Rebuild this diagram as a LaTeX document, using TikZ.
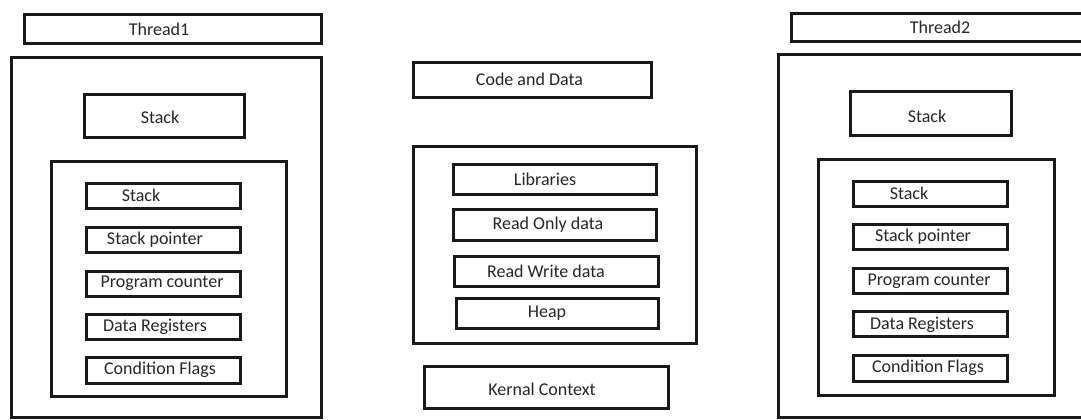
\documentclass[tikz,border=0pt]{standalone}
\usepackage{fontspec}
\setmainfont{Carlito}
\begin{document}
\begin{tikzpicture}[x=1pt,y=-1pt,
  bx/.style={draw=black!90,line width=3pt,rectangle,inner sep=0pt,fill=none},
  txt/.style={inner sep=0pt,text=black!85,font=\fontsize{18}{21}\selectfont}]
\useasboundingbox (0,0) rectangle (1081,420);
\clip (0,0) rectangle (1081,420);
% ---------- Thread 1 ----------
\node[bx,minimum width=297,minimum height=29] (t1) at (173,29) {};
\node[txt] (t1t) at (159,29) {Thread1};
\node[bx,minimum width=310,minimum height=359.5] (o1) at (166.5,237.25) {};
\node[bx,minimum width=160,minimum height=43] (s1) at (164.5,116) {};
\node[txt] (s1t) at (160,117) {Stack};
\node[bx,minimum width=235,minimum height=235] (i1) at (169,279) {};
\node[bx,minimum width=154,minimum height=25] (a1) at (163.5,195.5) {};
\node[txt] (a1t) at (141,195) {Stack};
\node[bx,minimum width=154,minimum height=25] (b1) at (163.5,240) {};
\node[txt] (b1t) at (155,239.5) {Stack pointer};
\node[bx,minimum width=154,minimum height=25] (c1) at (163.5,283.5) {};
\node[txt] (c1t) at (162,283.5) {Program counter};
\node[bx,minimum width=154,minimum height=25] (d1) at (163.5,327) {};
\node[txt] (d1t) at (155,326.5) {Data Registers};
\node[bx,minimum width=154,minimum height=26] (e1) at (163.5,370.5) {};
\node[txt] (e1t) at (160,369.5) {Condition Flags};
% ---------- Middle ----------
\node[bx,minimum width=238,minimum height=35] (cd) at (532.5,80) {};
\node[txt] (cdt) at (529.5,79) {Code and Data};
\node[bx,minimum width=283,minimum height=197] (mb) at (555,245) {};
\node[bx,minimum width=203,minimum height=30] (lib) at (555,179.5) {};
\node[txt] (libt) at (545,179) {Libraries};
\node[bx,minimum width=203,minimum height=31] (ro) at (555,225) {};
\node[txt] (rot) at (548,225) {Read Only data};
\node[bx,minimum width=204,minimum height=30] (rw) at (556.5,271.5) {};
\node[txt] (rwt) at (546,271) {Read Write data};
\node[bx,minimum width=202,minimum height=30] (hp) at (557.5,313.5) {};
\node[txt] (hpt) at (547,313) {Heap};
\node[bx,minimum width=244,minimum height=42] (kc) at (546.5,387.5) {};
\node[txt] (kct) at (542,389) {Kernal Context};
% ---------- Thread 2 ----------
\node[bx,minimum width=298.5,minimum height=28] (t2) at (940.75,27.5) {};
\node[txt] (t2t) at (940,27) {Thread2};
\node[bx,minimum width=311.5,minimum height=362.5] (o2) at (934.25,235.75) {};
\node[bx,minimum width=161,minimum height=44] (s2) at (931,113.5) {};
\node[txt] (s2t) at (927,116) {Stack};
\node[bx,minimum width=236,minimum height=236] (i2) at (936.5,277.5) {};
\node[bx,minimum width=154,minimum height=25] (a2) at (930.5,194) {};
\node[txt] (a2t) at (909,193) {Stack};
\node[bx,minimum width=154,minimum height=25] (b2) at (930.5,237) {};
\node[txt] (b2t) at (923,237) {Stack pointer};
\node[bx,minimum width=154,minimum height=25] (c2) at (930.5,281) {};
\node[txt] (c2t) at (929,281) {Program counter};
\node[bx,minimum width=154,minimum height=25] (d2) at (930.5,324) {};
\node[txt] (d2t) at (922,325) {Data Registers};
\node[bx,minimum width=154,minimum height=26] (e2) at (930.5,368.5) {};
\node[txt] (e2t) at (928,368) {Condition Flags};
\end{tikzpicture}
\end{document}
